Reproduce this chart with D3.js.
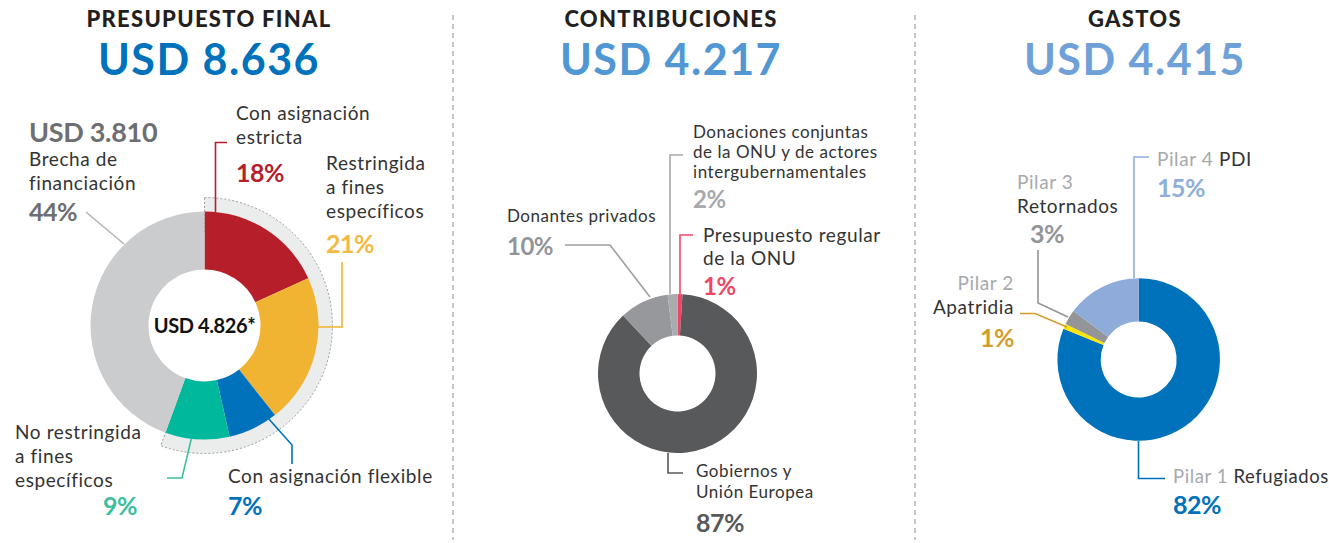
<!DOCTYPE html>
<html>
<head>
<meta charset="utf-8">
<script src="https://cdn.jsdelivr.net/npm/d3@7"></script>
<style>
  html, body { margin: 0; padding: 0; background: #fff; }
  svg { display: block; font-family: Lato, "Open Sans", sans-serif; }
</style>
</head>
<body>
<svg id="chart" width="1329" height="543"></svg>
<script>
// ---------- DATA ----------
const panelTitles = ["PRESUPUESTO FINAL", "CONTRIBUCIONES", "GASTOS"];
const panelTotals = ["USD 8.636", "USD 4.217", "USD 4.415"];

const presCats = ["Con asignación estricta", "Restringida a fines específicos", "Con asignación flexible", "No restringida a fines específicos", "Brecha de financiación"];
const presVals = [18, 21, 7, 9, 44];
const presFundedLabel = "USD 4.826*";
const presGapLabel = "USD 3.810";

const contCats = ["Presupuesto regular de la ONU", "Gobiernos y Unión Europea", "Donantes privados", "Donaciones conjuntas de la ONU y de actores intergubernamentales"];
const contVals = [1, 87, 10, 2];

const gastCats = ["Pilar 1 Refugiados", "Pilar 2 Apatridia", "Pilar 3 Retornados", "Pilar 4 PDI"];
const gastVals = [82, 1, 3, 15];

// ---------- STYLE ----------
const presColors = ["#b61f29", "#f0b432", "#0072bc", "#00b89c", "#cbcccd"];
const contColors = ["#ef4763", "#58595b", "#97989b", "#a9abae"];
const gastColors = ["#0072bc", "#ffe600", "#939598", "#8eabd9"];
const totalColors = ["#0072bc", "#5097d3", "#6fa1d8"];
const TXT = "#333333";
const PILAR = "#a7a9ac";

const svg = d3.select("#chart");

// ---------- headers & dividers ----------
const headerX = [209, 671, 1135];
panelTitles.forEach((t, i) => {
  svg.append("text").attr("x", headerX[i]).attr("y", 27)
    .attr("text-anchor", "middle").attr("font-size", 22).attr("font-weight", 900)
    .attr("fill", "#231f20").attr("letter-spacing", 1.3).text(t);
  svg.append("text").attr("x", headerX[i]).attr("y", 75)
    .attr("text-anchor", "middle").attr("font-size", 43).attr("font-weight", 700)
    .attr("fill", totalColors[i]).attr("letter-spacing", 1.5).text(panelTotals[i]);
});
[453, 915].forEach(x => {
  svg.append("line").attr("x1", x).attr("x2", x).attr("y1", 15).attr("y2", 540)
    .attr("stroke", "#b5b5b5").attr("stroke-width", 1.5).attr("stroke-dasharray", "5,4");
});

// ---------- helpers ----------
const pie = d3.pie().sort(null).value(d => d);

function textLines(x, y0, lines, opts) {
  const t = svg.append("text").attr("x", x).attr("y", y0)
    .attr("font-size", opts.size).attr("fill", opts.color || TXT)
    .attr("font-weight", opts.weight || 400)
    .attr("letter-spacing", opts.size >= 18 ? 0.6 : 0.55)
    .attr("text-anchor", opts.anchor || "start");
  lines.forEach((l, i) => {
    t.append("tspan").attr("x", x).attr("y", y0 + i * opts.lh).text(l);
  });
  return t;
}
function pct(x, y, v, color, anchor, size) {
  svg.append("text").attr("x", x).attr("y", y).attr("font-size", size || 25)
    .attr("font-weight", 700).attr("fill", color).attr("text-anchor", anchor || "start")
    .attr("letter-spacing", -0.5).text(v + "%");
}
function leader(pts, color, w) {
  svg.append("path").attr("d", d3.line()(pts)).attr("fill", "none")
    .attr("stroke", color).attr("stroke-width", w || 1.6);
}
function mixed(x, y, parts, size, anchor) {
  const t = svg.append("text").attr("x", x).attr("y", y).attr("font-size", size)
    .attr("letter-spacing", 0.6).attr("text-anchor", anchor || "start");
  parts.forEach(p => t.append("tspan").attr("fill", p[1]).text(p[0]));
}

// ---------- Chart 1: Presupuesto final ----------
{
  const cx = 204.5, cy = 325.5, rO = 114, rI = 56, rBand = 128;
  const g = svg.append("g").attr("transform", `translate(${cx},${cy})`);
  const arcs = pie(presVals);
  const fundedEnd = arcs[3].endAngle;
  // funded band
  g.append("path")
    .attr("d", d3.arc().innerRadius(rO - 20).outerRadius(rBand).startAngle(0).endAngle(fundedEnd)())
    .attr("fill", "#ebecec").attr("stroke", "#9a9a9a").attr("stroke-width", 1)
    .attr("stroke-dasharray", "2,2");
  const arc = d3.arc().innerRadius(rI).outerRadius(rO);
  g.selectAll("path.s").data(arcs).enter().append("path").attr("class", "s")
    .attr("d", arc).attr("fill", (d, i) => presColors[i]);
  g.append("text").attr("x", 0).attr("y", 7).attr("text-anchor", "middle")
    .attr("font-size", 20).attr("font-weight", 700).attr("fill", "#111")
    .attr("letter-spacing", -0.4).text(presFundedLabel);

  // gap label
  svg.append("text").attr("x", 29).attr("y", 142).attr("font-size", 27)
    .attr("font-weight", 700).attr("fill", "#6d6e71").attr("letter-spacing", -0.3).text(presGapLabel);
  textLines(29, 166, ["Brecha de", "financiación"], { size: 19, lh: 24 });
  pct(29, 221, presVals[4], "#6d6e71");
  leader([[86, 212], [124, 244]], "#b5b5b5");

  textLines(236, 120, ["Con asignación", "estricta"], { size: 19, lh: 24 });
  pct(236, 182, presVals[0], presColors[0]);
  leader([[215.5, 212], [215.5, 142.5], [227, 142.5]], presColors[0]);

  textLines(326, 170, ["Restringida", "a fines", "específicos"], { size: 19, lh: 24 });
  pct(326, 253, presVals[1], "#f3b843");
  leader([[318, 327], [342, 327], [342, 262]], presColors[1]);

  textLines(15, 439, ["No restringida", "a fines", "específicos"], { size: 19, lh: 24 });
  pct(137, 515, presVals[3], "#3dbf9d", "end");
  leader([[191.5, 438], [182, 478], [167, 478]], "#3dbf9d");

  textLines(228, 483, ["Con asignación flexible"], { size: 19, lh: 24 });
  pct(228, 515, presVals[2], presColors[2]);
  leader([[268, 418], [292, 445], [292, 464]], presColors[2]);
}

// ---------- Chart 2: Contribuciones ----------
{
  const cx = 677.5, cy = 373.5, rO = 79.5, rI = 38;
  const g = svg.append("g").attr("transform", `translate(${cx},${cy})`);
  const arc = d3.arc().innerRadius(rI).outerRadius(rO);
  g.selectAll("path").data(pie(contVals)).enter().append("path")
    .attr("d", arc).attr("fill", (d, i) => contColors[i]);

  textLines(693, 138, ["Donaciones conjuntas", "de la ONU y de actores", "intergubernamentales"], { size: 17, lh: 20 });
  pct(693, 208, contVals[3], "#a7a9ac", "start", 24);
  leader([[670, 294], [670, 155], [683, 155]], "#a7a9ac");

  textLines(507, 222, ["Donantes privados"], { size: 17, lh: 20 });
  pct(507, 255, contVals[2], "#939598", "start", 24);
  leader([[565, 245], [610, 245], [650, 297]], "#9d9fa2");

  textLines(703, 242, ["Presupuesto regular", "de la ONU"], { size: 19, lh: 23 });
  pct(703, 295, contVals[0], contColors[0], "start", 24);
  leader([[680, 294], [680, 235], [693, 235]], contColors[0]);

  textLines(696, 477, ["Gobiernos y", "Unión Europea"], { size: 17, lh: 20.5 });
  pct(696, 532, contVals[1], contColors[1], "start", 25);
  leader([[668, 453], [668, 473], [683, 473]], contColors[1]);
}

// ---------- Chart 3: Gastos ----------
{
  const cx = 1138.7, cy = 359.5, rO = 81.3, rI = 38;
  const g = svg.append("g").attr("transform", `translate(${cx},${cy})`);
  const arc = d3.arc().innerRadius(rI).outerRadius(rO);
  g.selectAll("path").data(pie(gastVals)).enter().append("path")
    .attr("d", arc).attr("fill", (d, i) => gastColors[i]);

  mixed(1157, 166, [["Pilar 4 ", PILAR], ["PDI", TXT]], 19);
  pct(1157, 197, gastVals[3], "#8eaedb");
  leader([[1134, 278], [1134, 157], [1149, 157]], "#8eaedb");

  mixed(1017, 189, [["Pilar 3", PILAR]], 19);
  mixed(1017, 213, [["Retornados", TXT]], 19);
  pct(1030, 243, gastVals[2], "#939598");
  leader([[1068, 317], [1038, 303], [1038, 250]], "#939598");

  mixed(1014, 290, [["Pilar 2", PILAR]], 19, "end");
  mixed(1014, 314, [["Apatridia", TXT]], 19, "end");
  pct(1014, 347, gastVals[1], "#d19e2b", "end");
  leader([[1020, 313.5], [1035, 313.5], [1067, 327]], "#d19e2b");

  mixed(1173, 483, [["Pilar 1 ", PILAR], ["Refugiados", TXT]], 18.5);
  pct(1173, 514, gastVals[0], gastColors[0]);
  leader([[1138.5, 441], [1138.5, 478.5], [1165, 478.5]], gastColors[0]);
}
</script>
</body>
</html>
